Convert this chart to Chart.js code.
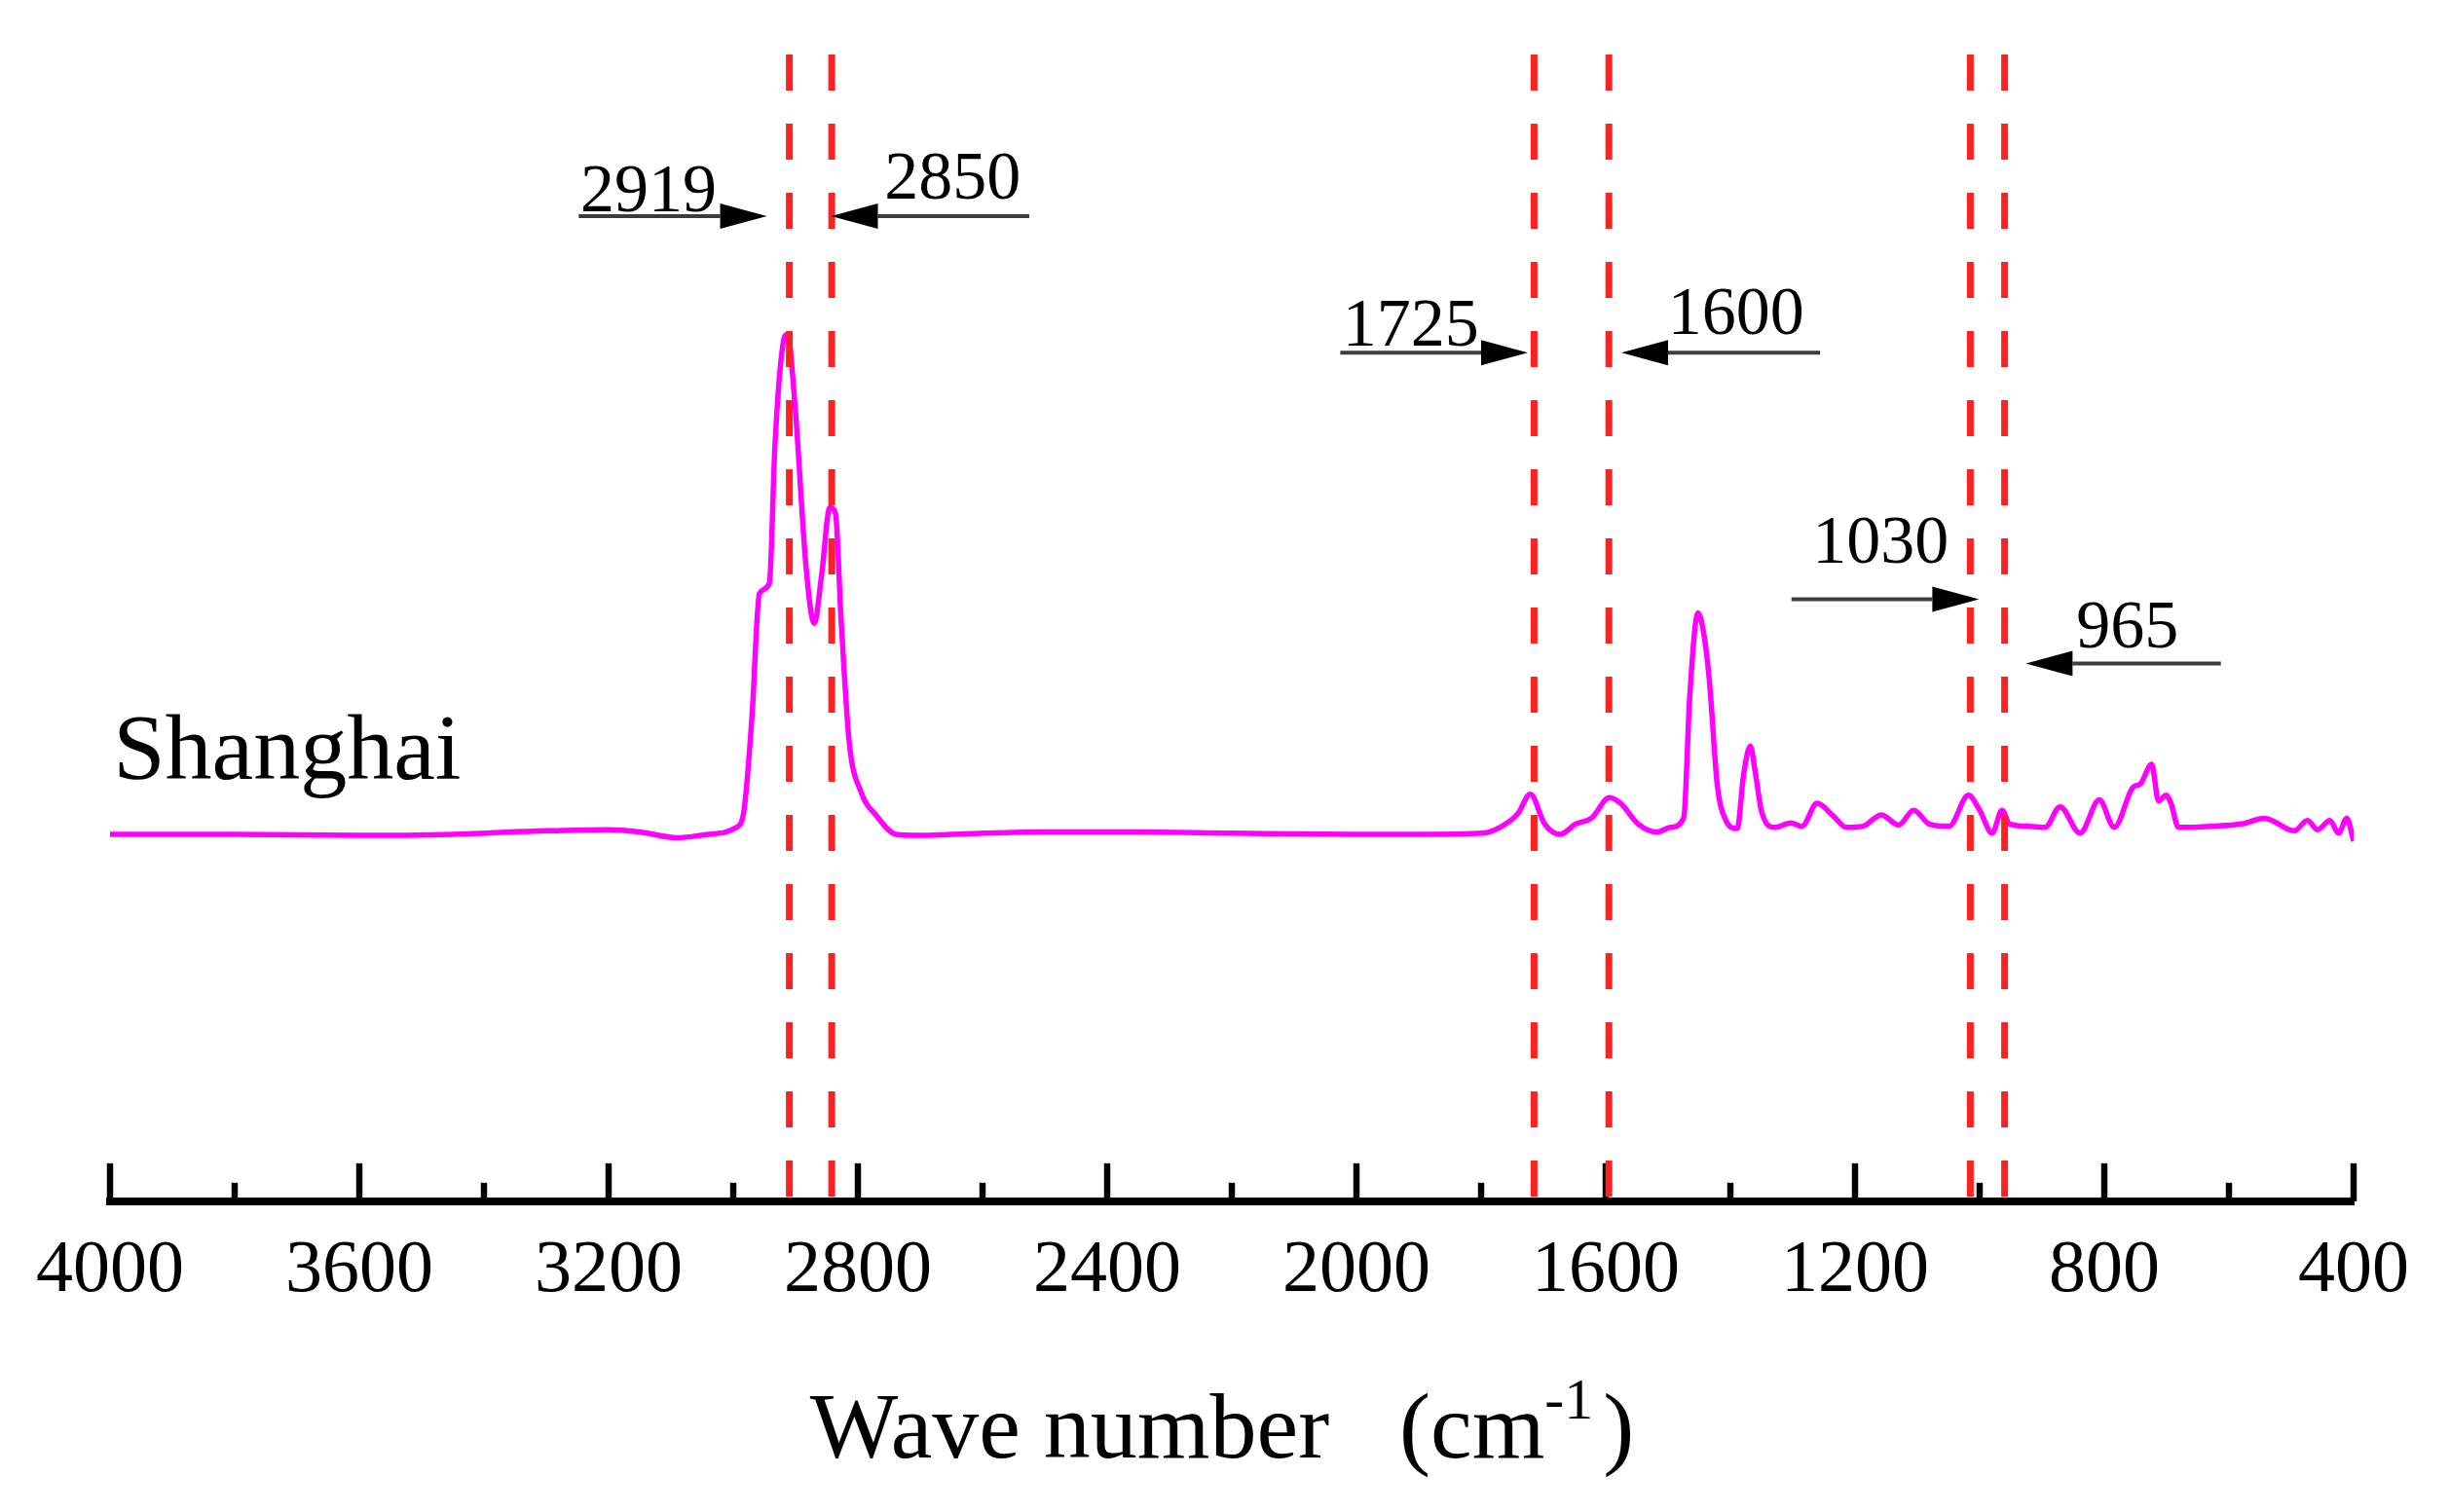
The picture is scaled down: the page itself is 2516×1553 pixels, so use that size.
<!DOCTYPE html>
<html>
<head>
<meta charset="utf-8">
<title>FTIR spectrum - Shanghai</title>
<script src="https://cdn.jsdelivr.net/npm/chart.js@4.4.1/dist/chart.umd.min.js"></script>
<style>
  html, body { margin: 0; padding: 0; background: #fff; }
  #wrap { width: 2516px; height: 1553px; position: relative; }
</style>
</head>
<body>
<div id="wrap"><canvas id="ftir-chart"></canvas></div>
<script>
// spectrum (arbitrary absorbance units, 0-100 plot range)
const waveNumbers = [4000, 3800, 3600, 3450, 3300, 3200, 3150, 3090, 3040, 2995,
  2983, 2970, 2958, 2942, 2933, 2920, 2913, 2901, 2883, 2870,
  2858, 2845, 2836, 2827, 2814, 2795, 2770, 2739, 2700, 2650,
  2500, 2358, 2200, 2000, 1900, 1798, 1770, 1741, 1721, 1698,
  1673, 1648, 1623, 1594, 1576, 1548, 1518, 1496, 1475, 1465,
  1452, 1444, 1434, 1421, 1408, 1389, 1379, 1368, 1360, 1350,
  1329, 1303, 1285, 1261, 1235, 1214, 1187, 1158, 1130, 1106,
  1081, 1049, 1018, 1000, 980, 964, 952, 920, 895, 871,
  839, 808, 784, 754, 742, 724, 713, 701, 693, 681,
  628, 580, 543, 495, 474, 458, 438, 424, 411, 400];
const absorbance = [32.0, 32.0, 31.9, 32.0, 32.3, 32.4, 32.2, 31.7, 32.0, 32.6,
  34.0, 42.2, 53.0, 53.9, 66.0, 74.8, 75.6, 69.5, 55.2, 50.4,
  54.7, 60.5, 60.0, 50.8, 40.1, 35.7, 33.6, 32.0, 31.9, 32.0,
  32.2, 32.2, 32.1, 32.0, 32.0, 32.1, 32.6, 33.8, 35.5, 32.9,
  32.0, 32.9, 33.4, 35.2, 34.7, 32.9, 32.2, 32.6, 33.4, 44.2,
  51.3, 49.9, 45.6, 36.3, 33.3, 32.5, 37.1, 39.7, 37.4, 34.0,
  32.6, 33.0, 32.7, 34.7, 33.6, 32.6, 32.7, 33.7, 32.8, 34.1,
  32.9, 32.7, 35.4, 34.1, 32.1, 34.1, 32.9, 32.7, 32.6, 34.4,
  32.1, 35.0, 32.6, 36.1, 36.4, 38.1, 34.9, 35.4, 34.7, 32.6,
  32.7, 32.9, 33.4, 32.3, 33.2, 32.4, 33.2, 32.1, 33.4, 31.4];

const majorTicks = [4000, 3600, 3200, 2800, 2400, 2000, 1600, 1200, 800, 400];

// marked bands (dashed lines sit where the figure draws them)
const peakLines = [2910, 2842, 1715, 1595, 1015, 960];
const peakLabels = ['2919', '2850', '1725', '1600', '1030', '965'];
const arrowTails = [3248, 2525, 2026, 1256, 1302, 613];
const arrowTips = [2946, 2843, 1725, 1575, 1001, 926];
const arrowLevels = [85.9, 85.9, 74.0, 74.0, 52.5, 46.9];
const labelCentres = [3136, 2648, 1913, 1391, 1159, 763];
const labelLevels = [86.3, 87.4, 74.6, 75.6, 55.7, 48.3];

const sampleName = 'Shanghai';
const sampleAt = 3995;
const sampleLevel = 36.8;

const SERIF = '"Liberation Serif", "Times New Roman", serif';

// inward tick marks, long on the labelled ones
const tickMarks = {
  id: 'tickMarks',
  beforeDatasetsDraw(chart) {
    const x = chart.scales.x;
    const ctx = chart.ctx;
    const base = chart.chartArea.bottom;
    ctx.save();
    ctx.strokeStyle = '#000';
    ctx.lineWidth = 6.5;
    x.ticks.forEach(t => {
      const px = x.getPixelForValue(t.value);
      const len = majorTicks.includes(t.value) ? 39 : 19;
      ctx.beginPath();
      ctx.moveTo(px, base);
      ctx.lineTo(px, base - len);
      ctx.stroke();
    });
    ctx.restore();
  }
};

// arrows, band numbers and the sample name
const peakNotes = {
  id: 'peakNotes',
  afterDatasetsDraw(chart) {
    const {ctx, scales: {x, y}} = chart;
    ctx.save();
    ctx.fillStyle = '#000';
    ctx.font = '70px ' + SERIF;
    ctx.textAlign = 'center';
    ctx.textBaseline = 'alphabetic';
    peakLabels.forEach((label, i) => {
      const tx = x.getPixelForValue(arrowTails[i]);
      const hx = x.getPixelForValue(arrowTips[i]);
      const ay = y.getPixelForValue(arrowLevels[i]);
      const dir = Math.sign(hx - tx);
      const baseX = hx - dir * 48;
      ctx.strokeStyle = '#3c3c3c';
      ctx.lineWidth = 4;
      ctx.beginPath();
      ctx.moveTo(tx, ay);
      ctx.lineTo(baseX, ay);
      ctx.stroke();
      ctx.beginPath();
      ctx.moveTo(hx, ay);
      ctx.lineTo(baseX, ay - 13);
      ctx.lineTo(baseX, ay + 13);
      ctx.closePath();
      ctx.fill();
      ctx.fillText(label, x.getPixelForValue(labelCentres[i]), y.getPixelForValue(labelLevels[i]));
    });
    ctx.font = '96px ' + SERIF;
    ctx.textAlign = 'left';
    ctx.fillText(sampleName, x.getPixelForValue(sampleAt), y.getPixelForValue(sampleLevel));
    ctx.restore();
  }
};

// "Wave number (cm-1)" with a raised -1
const axisTitle = {
  id: 'axisTitle',
  afterDraw(chart) {
    const {ctx, chartArea} = chart;
    const y = chartArea.bottom + 263;
    const mainFont = '96px ' + SERIF;
    const supFont = '60px ' + SERIF;
    ctx.save();
    ctx.fillStyle = '#000';
    ctx.textAlign = 'left';
    ctx.textBaseline = 'alphabetic';
    ctx.font = mainFont;
    const wWave = ctx.measureText('Wave number').width;
    const wOpen = ctx.measureText('(').width;
    const wCm = ctx.measureText('cm').width;
    const wClose = ctx.measureText(')').width;
    ctx.font = supFont;
    const wSup = ctx.measureText('-1').width;
    const gap = 72;
    const total = wWave + gap + wOpen + wCm + wSup + 10 + wClose;
    let cx = (chartArea.left + chartArea.right) / 2 - total / 2 - 10;
    ctx.font = mainFont;
    ctx.fillText('Wave number', cx, y);
    cx += wWave + gap;
    ctx.fillText('(', cx, y);
    cx += wOpen;
    ctx.fillText('cm', cx, y);
    cx += wCm;
    ctx.font = supFont;
    ctx.fillText('-1', cx, y - 40);
    cx += wSup + 10;
    ctx.font = mainFont;
    ctx.fillText(')', cx, y);
    ctx.restore();
  }
};

const bandSets = peakLines.map(v => ({
  data: [{x: v, y: 100}, {x: v, y: 0}],
  borderColor: '#ff2020',
  borderWidth: 7,
  borderDash: [37, 34],
  pointRadius: 0,
  order: 0
}));

const spectrum = {
  data: waveNumbers.map((v, i) => ({x: v, y: absorbance[i]})),
  borderColor: '#ff00ff',
  borderWidth: 5.5,
  pointRadius: 0,
  cubicInterpolationMode: 'monotone',
  order: 1
};

const ctx = document.getElementById('ftir-chart').getContext('2d');
const chart = new Chart(ctx, {
  type: 'line',
  data: { datasets: [...bandSets, spectrum] },
  options: {
    responsive: true,
    maintainAspectRatio: false,
    animation: false,
    devicePixelRatio: 1,
    layout: {
      autoPadding: false,
      padding: { left: 113, right: 99, top: 56, bottom: 174 }
    },
    plugins: {
      legend: { display: false },
      tooltip: { enabled: false }
    },
    scales: {
      x: {
        type: 'linear',
        min: 400,
        max: 4000,
        reverse: true,
        grid: { display: false, drawTicks: false },
        border: { display: true, color: '#000', width: 8 },
        ticks: {
          stepSize: 200,
          autoSkip: false,
          maxRotation: 0,
          minRotation: 0,
          padding: 27,
          color: '#000',
          font: { family: SERIF, size: 76 },
          callback: value => majorTicks.includes(value) ? String(value) : ''
        }
      },
      y: {
        display: false,
        min: 0,
        max: 100
      }
    }
  },
  plugins: [tickMarks, peakNotes, axisTitle]
});
</script>
</body>
</html>
